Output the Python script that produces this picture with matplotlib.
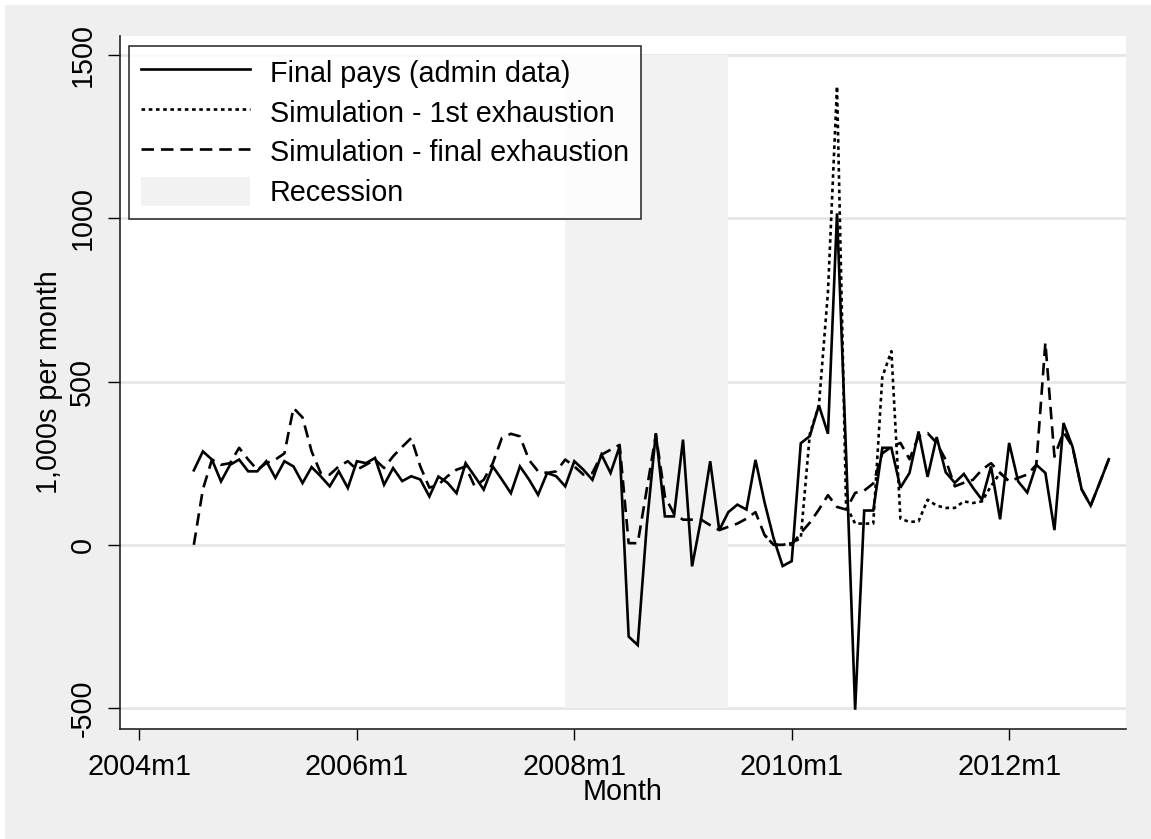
import numpy as np
import pandas as pd
import matplotlib
matplotlib.use("Agg")
import matplotlib.pyplot as plt
from matplotlib.patches import Rectangle, Patch
from matplotlib.lines import Line2D

# -------------------------------------------------------------
# Final pays vs simulated exhaustions, 2004m7 - 2012m12
# -------------------------------------------------------------

months = pd.period_range("2004-07", "2012-12", freq="M")

final_pays = [
    228, 286, 261, 194, 245, 261, 225, 225, 256, 205, 256, 240,
    189, 238, 210, 179, 225, 174, 256, 250, 266, 184, 235, 195,
    210, 200, 148, 209, 190, 158, 250, 210, 169, 240, 200, 158,
    240, 200, 153, 220, 210, 179, 256, 230, 199, 276, 220, 301,
    -281, -307, 60, 342, 87, 87, 322, -66, 80, 256, 45, 100,
    123, 108, 260, 130, 20, -65, -50, 311, 333, 427, 340, 1015,
    280, -505, 105, 105, 297, 297, 175, 220, 347, 208, 330, 222,
    190, 217, 175, 138, 240, 78, 312, 194, 160, 245, 220, 45,
    373, 300, 170, 120, 190, 262,
]

sim_final = [
    0, 170, 261, 245, 250, 297, 261, 230, 250, 261, 280, 419,
    390, 286, 220, 215, 240, 256, 230, 245, 261, 235, 271, 300,
    327, 240, 175, 184, 210, 230, 240, 179, 199, 250, 327, 340,
    332, 260, 225, 220, 225, 261, 240, 215, 220, 276, 291, 306,
    5, 5, 170, 337, 148, 95, 77, 77, 77, 60, 45, 55,
    65, 80, 100, 30, 0, 0, 0, 36, 68, 108, 152, 116,
    108, 159, 166, 188, 280, 300, 312, 262, 332, 342, 312, 260,
    179, 190, 199, 230, 250, 220, 194, 205, 215, 245, 619, 270,
    345, 300, 170, 120, 190, 262,
]

# 1st exhaustion only departs from the final-exhaustion path 2009m10 - 2012m1
first_start = pd.Period("2009-10", freq="M")
sim_first = [
    30, 0, 0, 5, 21, 340, 427, 774, 1404, 120, 65, 65,
    65, 514, 593, 80, 70, 72, 138, 120, 113, 113, 133, 128,
    133, 180, 220, 194,
]

recession = (pd.Period("2007-12", freq="M"), pd.Period("2009-06", freq="M"))
rec_lo, rec_hi = -500, 1500

tick_months = ["2004m1", "2006m1", "2008m1", "2010m1", "2012m1"]
y_ticks = [-500, 0, 500, 1000, 1500]

base = pd.Period("2004-01", freq="M")


def month_num(p):
    return (p - base).n


plt.rcParams["font.family"] = ["Liberation Sans", "DejaVu Sans"]
plt.rcParams["lines.scale_dashes"] = False

BG = "#efefef"
GRID = "#e6e6e6"
REC = "#f2f2f2"
FS = 20.7
LW = 1.9

fig = plt.figure(figsize=(11.51, 8.39), dpi=100, facecolor="white")
fig.add_artist(Rectangle((5 / 1151, 0), 1, 1 - 5 / 839, transform=fig.transFigure,
                         facecolor=BG, edgecolor="none", zorder=-10))
ax = fig.add_axes([120 / 1151, 1 - 729 / 839, 1006 / 1151, 693 / 839])
ax.set_facecolor("white")

x = np.array([month_num(p) for p in months])
x_first = np.array([month_num(first_start) + i for i in range(len(sim_first))])

# recession band
r0, r1 = month_num(recession[0]), month_num(recession[1])
ax.fill_between([r0, r1], rec_lo, rec_hi, color=REC, linewidth=0, zorder=1)

for yt in y_ticks:
    ax.axhline(yt, color=GRID, linewidth=2, zorder=0.5)

ax.plot(x, final_pays, color="black", linewidth=LW, zorder=3,
        solid_joinstyle="miter")
ax.plot(x_first, sim_first, color="black", linewidth=LW, zorder=3,
        linestyle=(0, (2.6, 2.6)))
ax.plot(x, sim_final, color="black", linewidth=LW, zorder=3,
        linestyle=(0, (9, 5)))

ax.set_xlim(-2.15, 108.9)
ax.set_ylim(-564, 1558)

tick_pos = [month_num(pd.Period(t.replace("m", "-"), freq="M")) for t in tick_months]
ax.set_xticks(tick_pos)
ax.set_xticklabels(tick_months, fontsize=FS)
ax.set_yticks(y_ticks)
ax.set_yticklabels([str(v) for v in y_ticks], fontsize=FS, rotation=90, va="center")

ax.tick_params(axis="x", length=8, width=1, pad=9, colors="black")
ax.tick_params(axis="y", length=9, width=1, pad=8, colors="black")

for s in ["top", "right"]:
    ax.spines[s].set_visible(False)
for s in ["left", "bottom"]:
    ax.spines[s].set_linewidth(1.2)
    ax.spines[s].set_color("#222222")

ax.set_xlabel("Month", fontsize=FS, labelpad=-2)
ax.set_ylabel("1,000s per month", fontsize=FS, labelpad=4)

handles = [
    Line2D([], [], color="black", linewidth=LW),
    Line2D([], [], color="black", linewidth=LW, linestyle=(0, (2.6, 2.6))),
    Line2D([], [], color="black", linewidth=LW, linestyle=(0, (9, 5))),
    Patch(facecolor=REC, edgecolor="none"),
]
labels = ["Final pays (admin data)", "Simulation - 1st exhaustion",
          "Simulation - final exhaustion", "Recession"]
leg = ax.legend(handles, labels, loc="upper left", bbox_to_anchor=(0.009, 0.986),
                borderaxespad=0, fontsize=FS, frameon=True, fancybox=False,
                handlelength=3.8, handletextpad=0.7, handleheight=1.2,
                labelspacing=0.33, borderpad=0.4)
leg.get_frame().set_edgecolor("black")
leg.get_frame().set_linewidth(1.2)
leg.set_zorder(5)

fig.savefig("out.png", dpi=100, facecolor=fig.get_facecolor())
